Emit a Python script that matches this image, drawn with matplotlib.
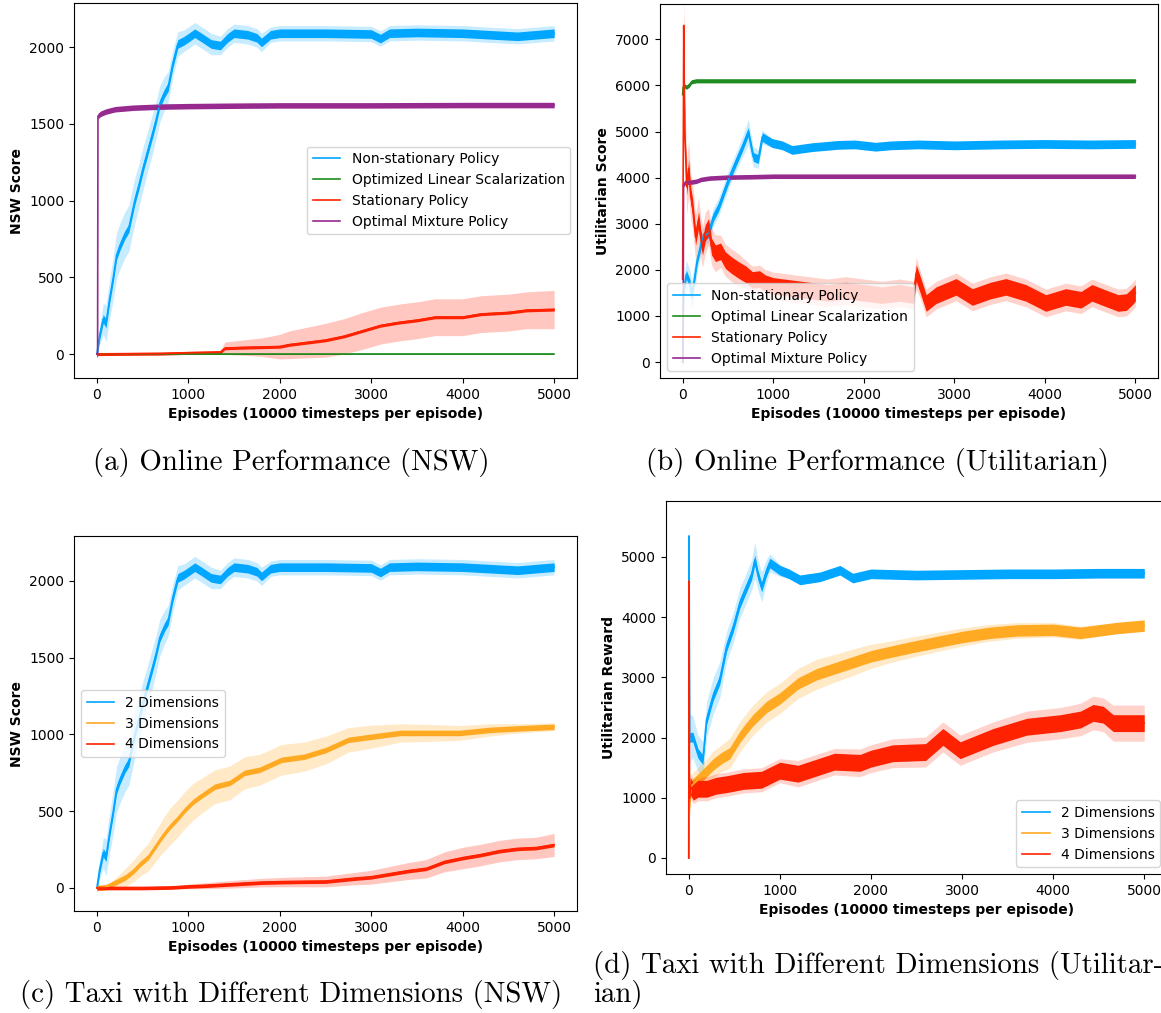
import numpy as np
import matplotlib
matplotlib.use("Agg")
import matplotlib.pyplot as plt

# colours
BLUE = '#00a6ff'
GREEN = '#1e8c1e'
RED = '#ff2200'
PURPLE = '#962a8f'
ORANGE = '#ffaa22'

# ---- NSW, non-stationary / 2 dimensions (panels a and c) ----
nsw_blue_ep = [0, 30, 70, 100, 140, 180, 215, 250, 305, 350, 415, 460, 505, 560, 615, 650, 688, 740, 780,
               830, 885, 950, 1000, 1070, 1150, 1250, 1350, 1430, 1500, 1650, 1750, 1800, 1900, 2000,
               2500, 3000, 3100, 3200, 3500, 4000, 4600, 5000]
nsw_blue = [0, 120, 230, 200, 360, 500, 640, 700, 775, 820, 1000, 1100, 1210, 1330, 1450, 1530, 1630, 1700,
            1740, 1890, 2020, 2040, 2060, 2090, 2060, 2020, 2010, 2060, 2090, 2080, 2060, 2030, 2080, 2090,
            2090, 2085, 2055, 2090, 2095, 2090, 2070, 2090]
nsw_blue_std = [0, 60, 100, 120, 130, 140, 150, 150, 150, 150, 150, 140, 140, 130, 130, 120, 120, 110,
                100, 90, 80, 70, 70, 70, 70, 70, 60, 60, 60, 60, 60, 60, 50, 50,
                50, 50, 50, 50, 50, 50, 50, 50]

# ---- NSW, panel a ----
nsw_purple_ep = [0, 8, 12, 40, 100, 200, 400, 700, 1000, 1500, 2000, 3000, 4000, 5000]
nsw_purple = [0, 0, 1550, 1565, 1580, 1595, 1605, 1612, 1615, 1618, 1620, 1620, 1622, 1622]

nsw_red_ep = [0, 700, 1000, 1350, 1400, 1600, 1800, 2000, 2100, 2300, 2500, 2700, 2900, 3100, 3300, 3500,
              3700, 4000, 4200, 4500, 4700, 5000]
nsw_red = [0, 3, 8, 12, 38, 42, 45, 48, 60, 75, 90, 115, 150, 185, 205, 220, 240, 240, 260, 270, 285, 290]
nsw_red_std = [0, 2, 4, 8, 40, 50, 60, 80, 90, 100, 110, 115, 120, 120, 120, 120, 120, 120, 120, 120, 120, 125]

nsw_green_ep = [0, 5000]
nsw_green = [0, 0]

# ---- Utilitarian, panel b ----
util_blue_ep = [0, 10, 40, 80, 100, 130, 160, 220, 286, 340, 396, 505, 582, 659, 725, 780, 835, 879, 989,
                1100, 1209, 1428, 1714, 1900, 2130, 2300, 2600, 3000, 3500, 4000, 4500, 5000]
util_blue = [0, 1500, 1900, 1700, 1450, 1800, 2200, 2700, 2800, 3150, 3360, 3950, 4310, 4660, 4990, 4450,
             4400, 4880, 4750, 4700, 4600, 4660, 4710, 4720, 4670, 4700, 4720, 4700, 4720, 4730, 4720, 4730]
util_blue_std = [0, 300, 300, 300, 300, 300, 250, 200, 200, 200, 200, 200, 200, 220, 280, 220, 200, 150, 100,
                 80, 80, 70, 70, 70, 70, 70, 70, 70, 70, 70, 70, 70]

util_green_ep = [0, 5, 15, 40, 70, 100, 150, 300, 1000, 2000, 3000, 4000, 5000]
util_green = [5800, 5950, 6000, 5960, 6000, 6080, 6100, 6100, 6100, 6100, 6100, 6100, 6100]

util_red_ep = [0, 8, 12, 18, 25, 33, 45, 66, 90, 110, 143, 176, 200, 220, 250, 286, 320, 362, 420, 472,
               540, 615, 700, 770, 850, 912, 1000, 1200, 1400, 1600, 1800, 2000, 2200, 2400, 2550, 2580,
               2620, 2690, 2800, 3020, 3200, 3400, 3570, 3790, 4010, 4230, 4400, 4520, 4650, 4810, 4900,
               4960, 5000]
util_red = [1800, 5000, 7300, 6000, 4900, 4500, 3800, 4200, 3600, 3370, 2710, 3080, 2700, 2500, 2800, 2930,
            2500, 2360, 2400, 2210, 2100, 2000, 1900, 1780, 1800, 1710, 1650, 1600, 1550, 1500, 1550, 1500,
            1450, 1500, 1450, 1930, 1700, 1280, 1450, 1630, 1410, 1550, 1630, 1500, 1280, 1410, 1350, 1500,
            1400, 1280, 1300, 1410, 1500]
util_red_std = [0, 800, 800, 800, 700, 700, 600, 600, 500, 500, 500, 500, 450, 450, 450, 400, 400, 400, 350,
                350, 350, 350, 300, 300, 300, 300, 300, 300, 300, 300, 300, 300, 300, 300, 300, 350, 300,
                300, 300, 300, 300, 300, 300, 300, 300, 300, 300, 300, 300, 300, 300, 300, 300]

util_purple_ep = [0, 5, 10, 30, 80, 150, 200, 300, 500, 800, 1000, 2000, 3000, 4000, 5000]
util_purple = [0, 0, 3850, 3900, 3900, 3920, 3960, 3990, 4010, 4020, 4030, 4030, 4030, 4030, 4030]

# ---- NSW, 3 and 4 dimensions (panel c) ----
dim3_nsw_ep = [0, 100, 150, 250, 315, 400, 480, 560, 640, 720, 800, 880, 965, 1050, 1130, 1290, 1455, 1615,
               1780, 2020, 2265, 2510, 2750, 2995, 3320, 3650, 3970, 4300, 4620, 5000]
dim3_nsw = [0, 5, 20, 50, 70, 110, 160, 200, 270, 340, 400, 450, 510, 560, 595, 660, 685, 750, 770, 835,
            855, 900, 965, 985, 1010, 1010, 1010, 1030, 1040, 1050]
dim3_nsw_std = [0, 5, 15, 40, 60, 70, 80, 90, 100, 110, 120, 120, 120, 120, 115, 110, 110, 105, 100, 100,
                95, 90, 80, 75, 60, 55, 48, 40, 30, 25]

dim4_nsw_ep = [0, 500, 800, 1000, 1200, 1500, 1800, 2000, 2200, 2500, 2800, 3000, 3200, 3400, 3600, 3800,
               4000, 4200, 4400, 4600, 4800, 5000]
dim4_nsw = [0, 0, 3, 10, 15, 25, 35, 38, 40, 42, 60, 70, 90, 110, 125, 170, 195, 215, 240, 255, 260, 280]
dim4_nsw_std = [0, 2, 8, 15, 20, 25, 28, 30, 32, 35, 40, 45, 50, 55, 60, 65, 70, 70, 70, 70, 70, 75]

# ---- Utilitarian, 2/3/4 dimensions (panel d) ----
dim2_util_ep = [0, 3, 10, 45, 100, 155, 195, 265, 340, 415, 490, 560, 635, 690, 725, 760, 800, 850, 890,
                1000, 1100, 1220, 1440, 1660, 1800, 2000, 2500, 3000, 3500, 4000, 4500, 5000]
dim2_util = [0, 5350, 2000, 2010, 1740, 1630, 2290, 2680, 2960, 3510, 3840, 4230, 4500, 4700, 4950, 4700,
             4500, 4750, 4900, 4780, 4720, 4620, 4670, 4780, 4650, 4720, 4700, 4710, 4720, 4720, 4730, 4730]
dim2_util_std = [0, 300, 400, 350, 300, 300, 300, 300, 300, 250, 250, 250, 250, 250, 300, 250, 250, 200, 150,
                 100, 80, 80, 70, 70, 70, 70, 70, 70, 70, 70, 70, 70]

dim3_util_ep = [0, 3, 10, 30, 100, 200, 265, 350, 450, 560, 630, 705, 780, 855, 1000, 1200, 1400, 1600,
                1800, 2000, 2200, 2440, 2700, 3000, 3300, 3600, 4000, 4300, 4500, 4700, 5000]
dim3_util = [2900, 600, 1000, 1200, 1300, 1450, 1550, 1650, 1740, 2010, 2150, 2290, 2400, 2510, 2650, 2900,
             3050, 3150, 3250, 3350, 3420, 3500, 3580, 3670, 3740, 3780, 3790, 3740, 3780, 3820, 3860]
dim3_util_std = [0, 200, 200, 200, 200, 200, 220, 220, 250, 250, 250, 250, 250, 250, 250, 250, 250, 230,
                 220, 200, 180, 170, 160, 150, 140, 130, 120, 110, 100, 90, 80]

dim4_util_ep = [0, 3, 8, 15, 50, 100, 200, 300, 430, 600, 800, 1000, 1200, 1400, 1600, 1880, 2000, 2240,
                2600, 2790, 2980, 3340, 3710, 4080, 4300, 4440, 4550, 4660, 5000]
dim4_util = [0, 4600, 1000, 1200, 1100, 1150, 1150, 1200, 1230, 1280, 1300, 1450, 1400, 1500, 1600, 1580,
             1650, 1740, 1760, 2010, 1790, 2010, 2180, 2240, 2300, 2410, 2380, 2240, 2240]
dim4_util_std = [0, 300, 250, 200, 200, 200, 200, 200, 200, 200, 200, 200, 220, 220, 220, 230, 230, 240,
                 250, 250, 250, 250, 260, 260, 270, 280, 280, 300, 300]

W, H = 1161, 1013


def draw(ax, ep, mean, std, color, label, jit, band_alpha=0.22):
    ep = np.asarray(ep, dtype=float)
    mean = np.asarray(mean, dtype=float)
    std = np.asarray(std, dtype=float)
    ax.fill_between(ep, mean - std, mean + std, color=color, alpha=band_alpha, lw=0)
    ax.fill_between(ep, mean - jit, mean + jit, color=color, lw=0)
    ax.plot(ep, mean, color=color, lw=1.2, label=label)


def place(left, top, right, bottom):
    return fig.add_axes([left / W, 1 - bottom / H, (right - left) / W, (bottom - top) / H])


def style(ax, ylabel, ylim):
    ax.set_xlim(-250, 5250)
    ax.set_ylim(*ylim)
    ax.set_xlabel('Episodes (10000 timesteps per episode)', fontsize=10, fontweight='bold')
    ax.set_ylabel(ylabel, fontsize=10, fontweight='bold')
    ax.tick_params(labelsize=10)


fig = plt.figure(figsize=(W / 100, H / 100), dpi=100)

# (a)
ax = place(74, 3, 577, 378)
draw(ax, nsw_blue_ep, nsw_blue, nsw_blue_std, BLUE, 'Non-stationary Policy', 28)
draw(ax, nsw_green_ep, nsw_green, 0, GREEN, 'Optimized Linear Scalarization', 3)
draw(ax, nsw_red_ep, nsw_red, nsw_red_std, RED, 'Stationary Policy', 10, 0.25)
draw(ax, nsw_purple_ep, nsw_purple, 12, PURPLE, 'Optimal Mixture Policy', 18)
style(ax, 'NSW Score', (-156, 2287))
ax.legend(loc='center right', fontsize=10)

# (b)
ax = place(660, 4, 1158, 378)
draw(ax, util_blue_ep, util_blue, util_blue_std, BLUE, 'Non-stationary Policy', 95)
draw(ax, util_green_ep, util_green, 20, GREEN, 'Optimal Linear Scalarization', 45)
draw(ax, util_red_ep, util_red, util_red_std, RED, 'Stationary Policy', 180, 0.2)
draw(ax, util_purple_ep, util_purple, 20, PURPLE, 'Optimal Mixture Policy', 50)
style(ax, 'Utilitarian Score', (-347, 7766))
ax.legend(loc='lower left', fontsize=10)

# (c)
ax = place(74, 536, 577, 911)
draw(ax, nsw_blue_ep, nsw_blue, nsw_blue_std, BLUE, '2 Dimensions', 28)
draw(ax, dim3_nsw_ep, dim3_nsw, dim3_nsw_std, ORANGE, '3 Dimensions', 18, 0.25)
draw(ax, dim4_nsw_ep, dim4_nsw, dim4_nsw_std, RED, '4 Dimensions', 12, 0.25)
style(ax, 'NSW Score', (-150, 2293))
ax.legend(loc='center left', fontsize=10)

# (d) - right edge runs past the page, as in the source
ax = place(666, 501, 1167, 874)
draw(ax, dim2_util_ep, dim2_util, dim2_util_std, BLUE, '2 Dimensions', 80)
draw(ax, dim3_util_ep, dim3_util, dim3_util_std, ORANGE, '3 Dimensions', 95, 0.25)
draw(ax, dim4_util_ep, dim4_util, dim4_util_std, RED, '4 Dimensions', 140, 0.2)
style(ax, 'Utilitarian Reward', (-266, 5930))
ax.legend(loc='lower right', fontsize=10)

# captions
cap = dict(fontfamily='cmr10', fontsize=20.8, va='baseline')
fig.text(291 / W, 1 - 470 / H, '(a) Online Performance (NSW)', ha='center', **cap)
fig.text(877 / W, 1 - 470 / H, '(b) Online Performance (Utilitarian)', ha='center', **cap)
fig.text(20 / W, 1 - 1002 / H, '(c) Taxi with Different Dimensions (NSW)', ha='left', **cap)
fig.text(593 / W, 1 - 973 / H, '(d) Taxi with Different Dimensions (Utilitar-', ha='left', **cap)
fig.text(593 / W, 1 - 1002 / H, 'ian)', ha='left', **cap)

fig.savefig('out.png', dpi=100)
